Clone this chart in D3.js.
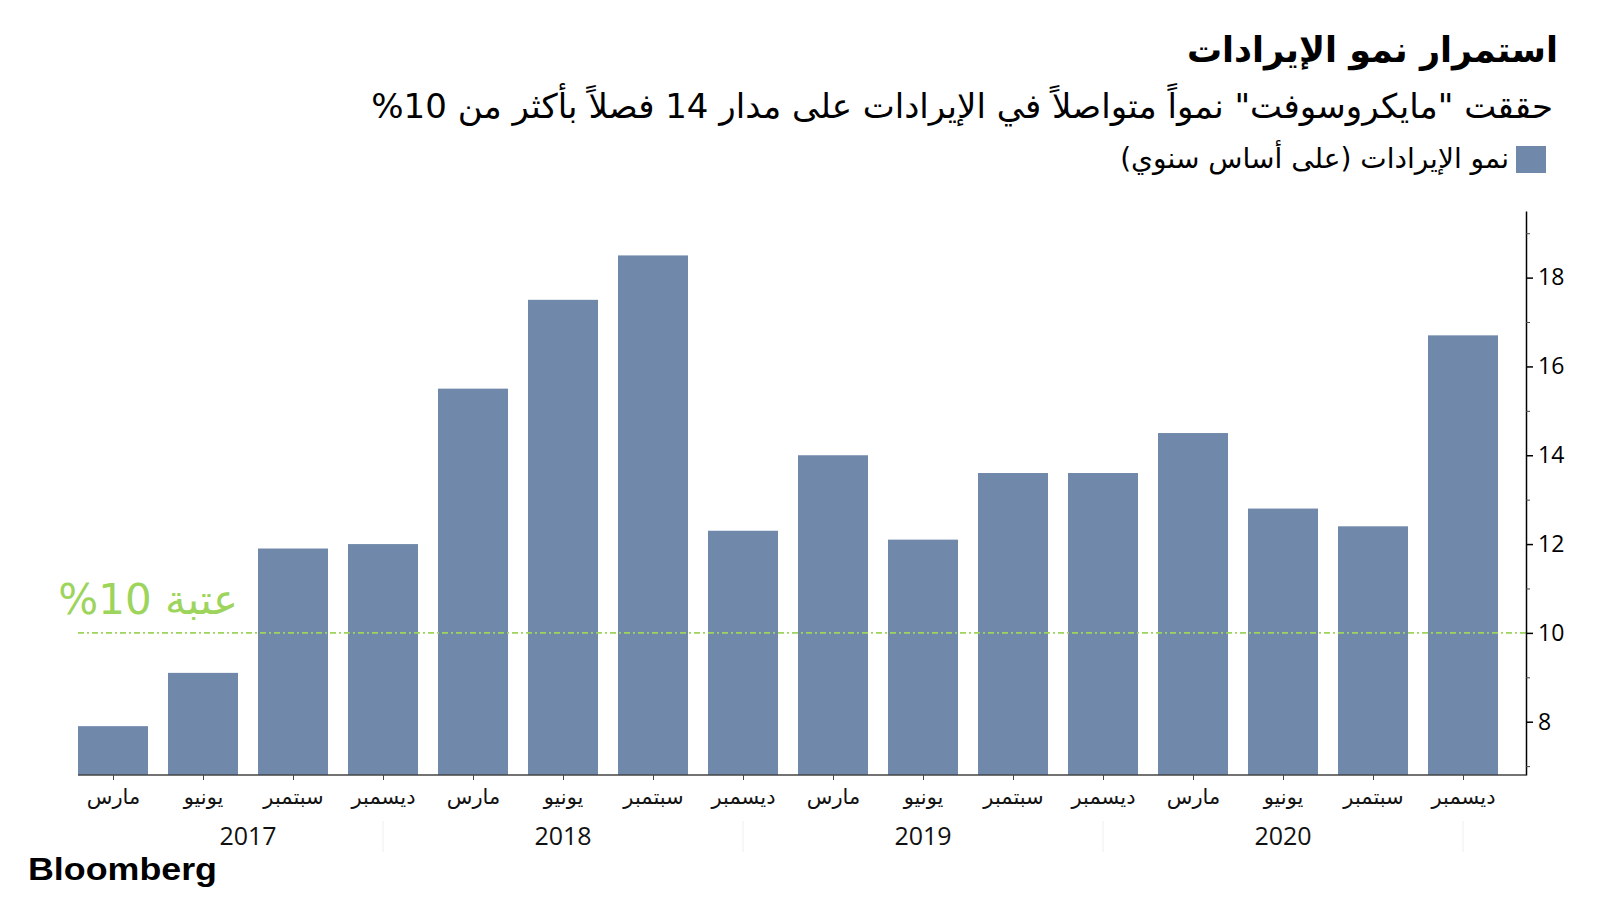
<!DOCTYPE html>
<html>
<head>
<meta charset="utf-8">
<title>استمرار نمو الإيرادات</title>
<script src="https://cdn.jsdelivr.net/npm/d3@7"></script>
<style>
  body { margin: 0; background: #fff; }
  svg text { font-family: "DejaVu Sans", sans-serif; }
</style>
</head>
<body>
<svg width="1600" height="900"></svg>

<script>
// quarterly revenue growth, year on year (%)
var quarters = ["مارس", "يونيو", "سبتمبر", "ديسمبر",
                "مارس", "يونيو", "سبتمبر", "ديسمبر",
                "مارس", "يونيو", "سبتمبر", "ديسمبر",
                "مارس", "يونيو", "سبتمبر", "ديسمبر"];
var growth = [7.9, 9.1, 11.9, 12.0, 15.5, 17.5, 18.5, 12.3,
              14.0, 12.1, 13.6, 13.6, 14.5, 12.8, 12.4, 16.7];
var years = ["2017", "2018", "2019", "2020"];
var yearEdges = [0, 3, 7, 11, 15];     // bar index where each year label span starts / ends
var yTicks = [8, 10, 12, 14, 16, 18];
var yMinorTicks = [7, 9, 11, 13, 15, 17, 19];
var threshold = 10;

var barColor = "#7089aa", green = "#9dd45c";
var axisX = 1526, baseY = 775;

var svg = d3.select("svg");

var x = d3.scaleBand()
    .domain(d3.range(growth.length))
    .range([78, 1498])
    .paddingInner(2 / 9)
    .paddingOuter(0);

var y = d3.scaleLinear()
    .domain([6.8, 19.5])
    .range([baseY, 211]);

// title, subtitle, legend  (the "10%" is written in logical order, it shows as %10 in rtl)
svg.append("text")
    .attr("x", 1558).attr("y", 62)
    .attr("direction", "rtl")
    .style("font-size", "35px").style("font-weight", "bold")
    .text("استمرار نمو الإيرادات");

svg.append("text")
    .attr("x", 1553).attr("y", 118)
    .attr("direction", "rtl")
    .style("font-size", "34px")
    .text("حققت \"مايكروسوفت\" نمواً متواصلاً في الإيرادات على مدار 14 فصلاً  بأكثر من 10%");

svg.append("rect")
    .attr("x", 1516).attr("y", 146)
    .attr("width", 30).attr("height", 27)
    .style("fill", barColor);

svg.append("text")
    .attr("x", 1509).attr("y", 168)
    .attr("direction", "rtl")
    .style("font-size", "28px")
    .text("نمو الإيرادات (على أساس سنوي)");

// bars
svg.selectAll("rect.bar")
    .data(growth)
  .enter()
  .append("rect")
    .attr("class", "bar")
    .attr("x", function(d, i) { return x(i); })
    .attr("y", function(d) { return y(d); })
    .attr("width", x.bandwidth())
    .attr("height", function(d) { return baseY - y(d); })
    .style("fill", barColor);

// 10% threshold
svg.append("line")
    .attr("x1", x.range()[0]).attr("x2", axisX)
    .attr("y1", y(threshold)).attr("y2", y(threshold))
    .style("stroke", green)
    .style("stroke-width", 1.6)
    .style("stroke-dasharray", "6,3,2,3");

svg.append("text")
    .attr("x", 238).attr("y", y(threshold) - 19)
    .attr("direction", "rtl")
    .style("font-size", "42px")
    .style("fill", green)
    .text("عتبة 10%");

// y axis on the right
var yAxis = svg.append("g")
    .attr("transform", "translate(" + axisX + ",0)")
    .call(d3.axisRight(y).tickValues(yTicks).tickSize(7).tickSizeOuter(0).tickPadding(5));

yAxis.select(".domain").style("stroke", "#000").style("stroke-width", 1.5);
yAxis.selectAll(".tick line").style("stroke", "#000").style("stroke-width", 1.5);
yAxis.selectAll(".tick text")
    .style("font-family", "'Open Sans', sans-serif")
    .style("font-size", "23px")
    .style("fill", "#000");

svg.append("g")
    .attr("transform", "translate(" + axisX + ",0)")
    .call(d3.axisRight(y).tickValues(yMinorTicks).tickSize(4).tickFormat(""))
    .call(function(g) { g.select(".domain").remove(); })
    .selectAll(".tick line").style("stroke", "#444");

// x axis
svg.append("line")
    .attr("x1", x.range()[0]).attr("x2", axisX)
    .attr("y1", baseY).attr("y2", baseY)
    .style("stroke", "#444").style("stroke-width", 1.5);

var xAxis = svg.append("g")
    .attr("transform", "translate(" + x.bandwidth() / 2 + "," + baseY + ")")
    .call(d3.axisBottom(d3.scalePoint().domain(d3.range(growth.length)).range([x(0), x(growth.length - 1)]))
        .tickSize(5).tickPadding(9)
        .tickFormat(function(i) { return quarters[i]; }));

xAxis.select(".domain").remove();
xAxis.selectAll(".tick line").style("stroke", "#444");
xAxis.selectAll(".tick text")
    .style("font-size", "21px")
    .style("fill", "#111");

// year labels and faint separators
function barCenter(i) { return x(i) + x.bandwidth() / 2; }

svg.selectAll("line.year-sep")
    .data(yearEdges.slice(1))
  .enter()
  .append("line")
    .attr("class", "year-sep")
    .attr("x1", barCenter).attr("x2", barCenter)
    .attr("y1", 821).attr("y2", 852)
    .style("stroke", "#eeeeee");

svg.selectAll("text.year")
    .data(years)
  .enter()
  .append("text")
    .attr("class", "year")
    .attr("x", function(d, i) { return (barCenter(yearEdges[i]) + barCenter(yearEdges[i + 1])) / 2; })
    .attr("y", 845)
    .attr("text-anchor", "middle")
    .style("font-family", "'Open Sans', sans-serif")
    .style("font-size", "25px")
    .style("fill", "#111")
    .text(function(d) { return d; });

// source logo
svg.append("text")
    .attr("x", 28).attr("y", 880)
    .attr("textLength", 189)
    .attr("lengthAdjust", "spacingAndGlyphs")
    .style("font-family", "'Liberation Sans', Arial, sans-serif")
    .style("font-size", "31px")
    .style("font-weight", "bold")
    .text("Bloomberg");
</script>
</body>
</html>
